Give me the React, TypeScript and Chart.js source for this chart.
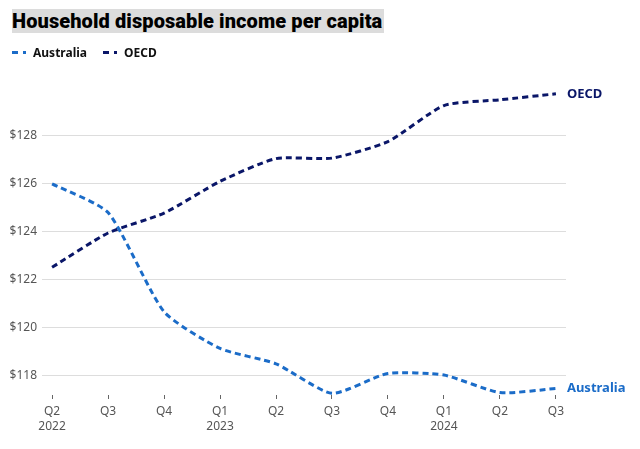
import React, { useEffect, useRef } from "react";
import { Chart, registerables } from "chart.js";

Chart.register(...registerables);

const quarters: string[][] = [
  ["Q2", "2022"], ["Q3"], ["Q4"], ["Q1", "2023"], ["Q2"],
  ["Q3"], ["Q4"], ["Q1", "2024"], ["Q2"], ["Q3"],
];
const australia: number[] = [126.0, 124.8, 120.67, 119.14, 118.5, 117.27, 118.1, 118.03, 117.3, 117.47];
const oecd: number[] = [122.52, 123.95, 124.78, 126.1, 127.05, 127.07, 127.76, 129.26, 129.5, 129.75];
const yTicks: number[] = [118, 120, 122, 124, 126, 128];

const seriesNames = ["Australia", "OECD"];
const seriesColors = ["#1b6cc8", "#0a1668"];

const endLabels = {
  id: "endLabels",
  afterDatasetsDraw(chart: any) {
    const ctx = chart.ctx;
    ctx.save();
    chart.data.datasets.forEach((ds: any, i: number) => {
      const meta = chart.getDatasetMeta(i);
      const pt = meta.data[meta.data.length - 1];
      if (!pt) return;
      ctx.font = "bold 13px 'Noto Sans'";
      ctx.fillStyle = ds.borderColor;
      ctx.textBaseline = "middle";
      ctx.textAlign = "left";
      ctx.fillText(ds.label, pt.x + 11, pt.y);
    });
    ctx.restore();
  },
};

export default function App() {
  const ref = useRef<HTMLCanvasElement | null>(null);
  useEffect(() => {
    if (!ref.current) return;
    const chart = new Chart(ref.current, {
      type: "line",
      data: {
        datasets: [australia, oecd].map((vals, i) => ({
          label: seriesNames[i],
          data: vals.map((v, j) => ({ x: j, y: v })),
          borderColor: seriesColors[i],
          backgroundColor: seriesColors[i],
          borderWidth: 3,
          borderDash: [6, 4],
          pointRadius: 0,
          tension: 0.2,
          clip: false as any,
        })),
      },
      plugins: [endLabels],
      options: {
        animation: false,
        responsive: false,
        devicePixelRatio: 1,
        layout: { padding: { top: 83, right: 74, bottom: 0, left: 0 } },
        plugins: { legend: { display: false }, tooltip: { enabled: false }, title: { display: false } },
        scales: {
          x: {
            type: "linear",
            min: -0.18,
            max: 9.18,
            afterBuildTicks: (scale: any) => {
              scale.ticks = quarters.map((_, i) => ({ value: i }));
            },
            afterFit: (scale: any) => {
              scale.height = 54;
            },
            grid: { drawOnChartArea: false, drawTicks: true, tickLength: 4, tickColor: "#666", tickWidth: 1 },
            border: { display: false },
            ticks: {
              padding: 5,
              maxRotation: 0,
              autoSkip: false,
              color: "#555",
              font: { family: "'Noto Sans'", size: 12, lineHeight: 1.25 },
              callback: (v: any) => quarters[Math.round(Number(v))] ?? "",
            },
          },
          y: {
            min: 117.2,
            max: 130.2,
            afterBuildTicks: (scale: any) => {
              scale.ticks = yTicks.map((v) => ({ value: v }));
            },
            afterFit: (scale: any) => {
              scale.width = 42;
            },
            grid: { color: "#dddddd", lineWidth: 1, drawTicks: false },
            border: { display: false },
            ticks: {
              padding: 5,
              color: "#555",
              font: { family: "'Noto Sans'", size: 12 },
              callback: (v: any) => "$" + v,
            },
          },
        },
      },
    });
    return () => chart.destroy();
  }, []);

  return (
    <div style={{ position: "absolute", left: 0, top: 0, width: 640, height: 449, background: "#fff", overflow: "hidden" }}>
      <canvas ref={ref} width={640} height={449} style={{ position: "absolute", left: 0, top: 0, width: 640, height: 449 }} />
      <div
        style={{
          position: "absolute",
          left: 12,
          top: 9,
          height: 24,
          lineHeight: "24px",
          background: "#dcdcdc",
          fontFamily: "Roboto, 'Noto Sans', sans-serif",
          fontWeight: 900,
          fontSize: 20,
          letterSpacing: 0.1,
          color: "#000",
          whiteSpace: "nowrap",
          paddingRight: 2,
        }}
      >
        Household disposable income per capita
      </div>
      <div
        style={{
          position: "absolute",
          left: 12,
          top: 44,
          height: 16,
          display: "flex",
          alignItems: "center",
          fontFamily: "'Noto Sans', sans-serif",
          fontWeight: 700,
          fontSize: 12,
          color: "#111",
          whiteSpace: "nowrap",
        }}
      >
        {seriesNames.map((name, i) => (
          <div key={name} style={{ display: "flex", alignItems: "center", marginRight: 16 }}>
            <span style={{ display: "inline-block", width: 6, height: 3, background: seriesColors[i], marginRight: 5 }} />
            <span style={{ display: "inline-block", width: 3, height: 3, background: seriesColors[i], marginRight: 7 }} />
            <span>{name}</span>
          </div>
        ))}
      </div>
    </div>
  );
}
